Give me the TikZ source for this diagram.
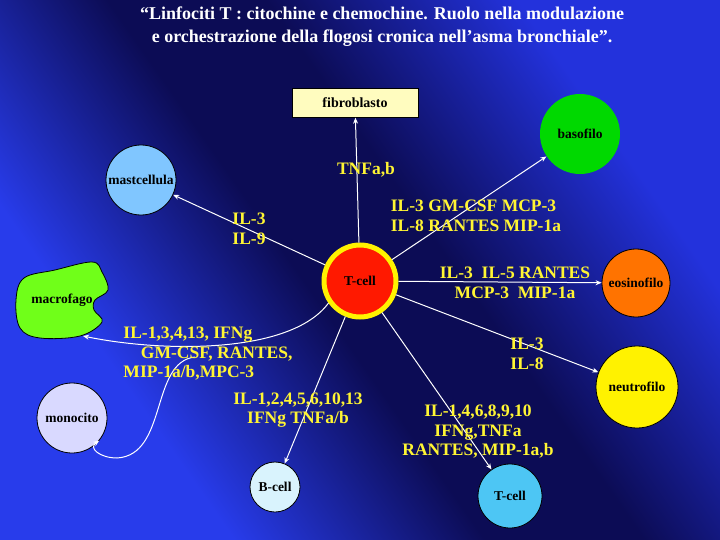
\documentclass[tikz,border=0pt]{standalone}
\usepackage{fontspec}
\setmainfont{Liberation Serif}
\usetikzlibrary{arrows.meta}
\definecolor{bgA}{RGB}{35,50,220}
\definecolor{bgB}{RGB}{12,12,85}
\definecolor{bgC}{RGB}{40,60,235}
\pgfdeclarehorizontalshading{mybg}{100bp}{color(0bp)=(bgC); color(30bp)=(bgC); color(46bp)=(bgB); color(56bp)=(bgB); color(72bp)=(bgA); color(100bp)=(bgA)}
\begin{document}
\begin{tikzpicture}[x=1pt,y=-1pt,
  cell/.style={circle,draw=black,line width=0.8pt,font=\bfseries\fontsize{13.5}{13.5}\selectfont,inner sep=0pt},
  lab/.style={text=yellow!80!white,font=\bfseries\fontsize{17.5}{19.5}\selectfont,align=center,inner sep=0pt},
  arr/.style={white,line width=1pt,-{Stealth[length=6pt,width=5pt]}}]
\useasboundingbox (0,0) rectangle (720,540);
\shade[shading=mybg,shading angle=35] (0,0) rectangle (720,540);
\node[text=white,font=\bfseries\fontsize{18}{23}\selectfont,align=center] (title) at (382,27)
 {“Linfociti T : citochine e chemochine. Ruolo nella modulazione\\ e orchestrazione della flogosi cronica nell’asma bronchiale”.};
\node[draw=black,fill=yellow!25,minimum width=126pt,minimum height=29pt,font=\bfseries\fontsize{14}{14}\selectfont] (fib) at (355,103) {fibroblasto};
\node[cell,draw=none,fill=green!85!black,minimum size=80pt] (baso) at (580,134) {basofilo};
\node[cell,fill=blue!45!cyan!50!white,minimum size=70pt] (mast) at (141,180) {mastcellula};
\node[cell,draw=yellow,line width=5pt,fill=red!80!orange,minimum size=72pt] (tc) at (360,281) {T-cell};
\node[cell,fill=orange!90!red,minimum size=68pt] (eos) at (636,283) {eosinofilo};
\node[cell,fill=yellow,minimum size=82pt] (neu) at (637,387) {neutrofilo};
\node[cell,fill=blue!15!white,minimum size=70pt] (mono) at (72,418) {monocito};
\node[cell,fill=cyan!15!white,minimum size=50pt] (bc) at (275,487) {B-cell};
\node[cell,fill=cyan!70!white,minimum size=64pt] (tc2) at (510,496) {T-cell};
\draw[fill=green!50!lime!90!white,line width=0.8pt] plot[smooth cycle,tension=0.6] coordinates
 {(16,300) (24,278) (55,270) (92,262) (102,272) (108,290) (95,300) (94,310) (102,322) (80,336) (40,338) (20,328)};
\node[font=\bfseries\fontsize{13.5}{13.5}\selectfont,inner sep=0pt] (macro) at (62,300) {macrofago};
\coordinate (mc) at (83,336);
\draw[arr] (tc) -- (fib);
\draw[arr] (tc) -- (baso);
\draw[arr] (tc) -- (mast);
\draw[arr] (tc) -- (eos);
\draw[arr] (tc) -- (neu);
\draw[arr] (tc) -- (bc);
\draw[arr] (tc) -- (tc2);
\draw[arr] (tc.-145) .. controls (290,355) and (160,352) .. (mc);
\coordinate (br) at (195,357);
\draw[arr] (br) .. controls (150,362) and (168,455) .. (117,458) .. controls (100,458) and (88,448) .. (mono.-40);
\node[lab] (l1) at (366,170) {TNFa,b};
\node[lab,align=left] (l2) at (249,229) {IL-3\\IL-9};
\node[lab,align=left] (l3) at (476,216) {IL-3 GM-CSF MCP-3\\IL-8 RANTES MIP-1a};
\node[lab] (l4) at (515,283) {IL-3\ \ IL-5 RANTES\\MCP-3\ \ MIP-1a};
\node[lab,align=left] (l5) at (527,354) {IL-3\\IL-8};
\node[lab,align=left] (l6) at (208,354) {IL-1,3,4,13, IFNg\\\ \ \ \ GM-CSF, RANTES,\\MIP-1a/b,MPC-3};
\node[lab] (l7) at (298,410) {IL-1,2,4,5,6,10,13\\IFNg TNFa/b};
\node[lab] (l8) at (478,432) {IL-1,4,6,8,9,10\\IFNg,TNFa\\RANTES, MIP-1a,b};
\end{tikzpicture}
\end{document}
